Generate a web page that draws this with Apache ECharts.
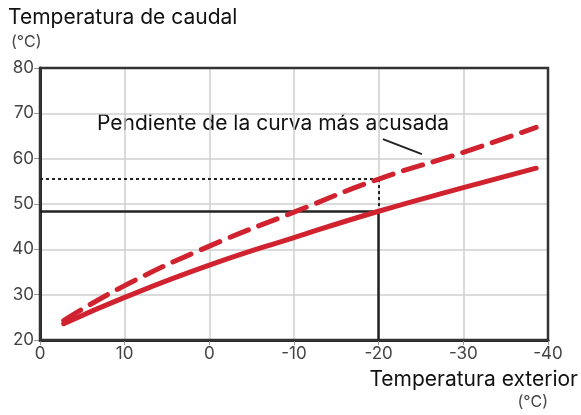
<!DOCTYPE html>
<html>
<head>
<meta charset="utf-8">
<script src="https://cdn.jsdelivr.net/npm/echarts@6/dist/echarts.min.js"></script>
<style>
html,body{margin:0;padding:0;background:#fff;}
#chart{width:581px;height:415px;}
</style>
</head>
<body>
<div id="chart"></div>
<script>
// Outdoor temperature (°C) sample points for each heating curve
const outdoorTemps = [17.2, 10, 0, -10, -20, -30, -38.6];
// Supply (flow) temperature, standard curve
const flowNormal = [23.6, 29.4, 36.5, 42.6, 48.4, 53.6, 57.9];
// Supply temperature, steeper curve
const flowSteep = [24.3, 32.0, 40.7, 48.2, 55.5, 61.4, 66.9];
// Axis tick labels as printed
const xTickLabels = {20: '0', 10: '10', 0: '0', '-10': '-10', '-20': '-20', '-30': '-30', '-40': '-40'};
// Reading example at -20 °C
const readX = -20;
const readNormal = 48.4;
const readSteep = 55.5;

const font = 'Inter, Roboto, sans-serif';
const red = '#d0222f';
const ink = '#222';

const gridLines = {show: true, showMinLine: false, showMaxLine: false, lineStyle: {color: '#cfcfcf', width: 1.5}};

const chart = echarts.init(document.getElementById('chart'));
chart.setOption({
  animation: false,
  grid: {left: 40, right: 33, top: 68, bottom: 75, show: true, borderColor: '#333', borderWidth: 2.5, z: 3},
  xAxis: {
    type: 'value', min: -40, max: 20, interval: 10, inverse: true,
    axisLine: {show: true, onZero: false, lineStyle: {color: '#2a2a2a', width: 3}},
    axisTick: {show: true, length: 5, lineStyle: {color: '#999'}},
    axisLabel: {color: '#444', fontSize: 17, fontFamily: font, margin: 5,
      formatter: v => xTickLabels[v] !== undefined ? xTickLabels[v] : String(v)},
    splitLine: gridLines
  },
  yAxis: {
    type: 'value', min: 20, max: 80, interval: 10,
    axisLine: {show: true, onZero: false, lineStyle: {color: '#2a2a2a', width: 3}},
    axisTick: {show: true, length: 6, lineStyle: {color: '#999'}},
    axisLabel: {color: '#444', fontSize: 17, fontFamily: font, margin: 6},
    splitLine: gridLines
  },
  series: [
    {
      type: 'line', smooth: true, symbol: 'none',
      data: outdoorTemps.map((x, i) => [x, flowNormal[i]]),
      lineStyle: {color: red, width: 5, cap: 'round'},
      z: 5,
      markLine: {
        silent: true, symbol: 'none', label: {show: false},
        lineStyle: {color: ink, width: 2.5, type: 'solid'},
        data: [
          [{coord: [20, readNormal]}, {coord: [readX, readNormal]}],
          [{coord: [readX, readNormal]}, {coord: [readX, 20]}]
        ]
      }
    },
    {
      type: 'line', smooth: true, symbol: 'none',
      data: outdoorTemps.map((x, i) => [x, flowSteep[i]]),
      lineStyle: {color: red, width: 5, type: [20, 11], cap: 'round'},
      z: 5,
      markLine: {
        silent: true, symbol: 'none', label: {show: false},
        lineStyle: {color: ink, width: 2, type: [3, 3]},
        data: [
          [{coord: [20, readSteep]}, {coord: [readX, readSteep]}],
          [{coord: [readX, readSteep]}, {coord: [readX, readNormal]}],
          [{coord: [-20.5, 64.3], lineStyle: {type: 'solid', width: 2}}, {coord: [-25.1, 61.0]}]
        ]
      }
    }
  ],
  graphic: [
    {type: 'text', left: 8, top: 7, style: {text: 'Temperatura de caudal', fontSize: 21, fontFamily: font, fill: '#111'}},
    {type: 'text', left: 11, top: 34, style: {text: '(°C)', fontSize: 16, fontFamily: font, fill: '#444'}},
    {type: 'text', left: 97, top: 113, style: {text: 'Pendiente de la curva más acusada', fontSize: 21, fontFamily: font, fill: '#111'}},
    {type: 'text', right: 3, top: 369, style: {text: 'Temperatura exterior', fontSize: 21, fontFamily: font, fill: '#111'}},
    {type: 'text', right: 33, top: 394, style: {text: '(°C)', fontSize: 16, fontFamily: font, fill: '#444'}}
  ]
});
</script>
</body>
</html>
